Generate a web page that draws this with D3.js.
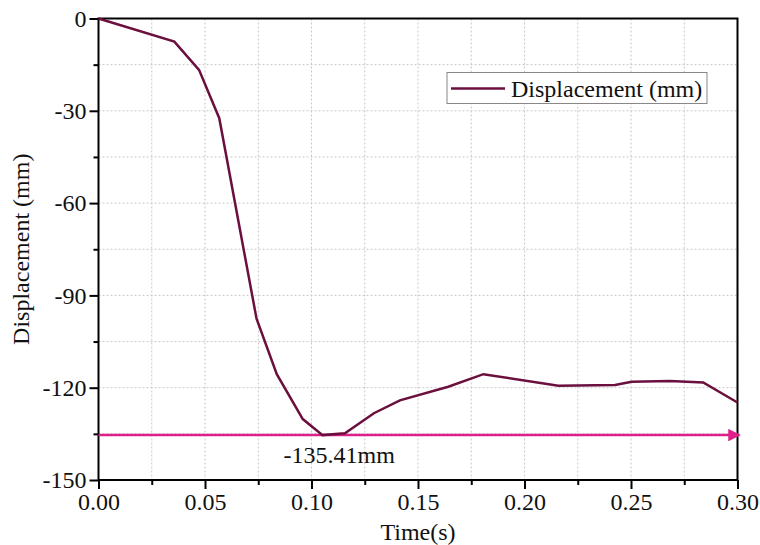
<!DOCTYPE html>
<html>
<head>
<meta charset="utf-8">
<script src="https://cdn.jsdelivr.net/npm/d3@7"></script>
<style>
  body { margin: 0; background: #fff; }
  text { font-family: "Liberation Serif", "Times New Roman", serif; fill: #111; }
</style>
</head>
<body>
<div id="chart"></div>
<script>
// data
var times = [0, 0.0356, 0.0472, 0.0567, 0.0742, 0.0837, 0.0959, 0.1052, 0.1157, 0.1293, 0.1415, 0.1642, 0.1807, 0.2159, 0.2425, 0.2503, 0.2683, 0.2839, 0.30];
var displacement = [0, -7.5, -16.7, -32.4, -97.6, -115.6, -130.2, -135.41, -134.8, -128.3, -124.1, -119.7, -115.6, -119.4, -119.1, -118.1, -117.8, -118.3, -124.8];
var minValue = -135.41;
var xTicks = [0, 0.05, 0.10, 0.15, 0.20, 0.25, 0.30];
var yTicks = [0, -30, -60, -90, -120, -150];

var svgWidth = 760, svgHeight = 545;
var margin = {top: 18.5, right: 22.5, bottom: 65, left: 98.5};
var width = svgWidth - margin.left - margin.right;
var height = svgHeight - margin.top - margin.bottom;
var fontSize = "24px";

var svg = d3.select("#chart").append("svg")
    .attr("width", svgWidth).attr("height", svgHeight);
var chart = svg.append("g").attr("transform", `translate(${margin.left},${margin.top})`);

var xScale = d3.scaleLinear().domain([0, 0.30]).range([0, width]);
var yScale = d3.scaleLinear().domain([-150, 0]).range([height, 0]);

// grid on every minor step
var xGrid = d3.range(1, 12).map(function (i) { return i * 0.025; });
var yGrid = d3.range(1, 10).map(function (i) { return -i * 15; });
chart.selectAll(".gx").data(xGrid).enter().append("line")
    .attr("x1", function (d) { return xScale(d); }).attr("x2", function (d) { return xScale(d); })
    .attr("y1", 0).attr("y2", height)
    .attr("stroke", "#c8c8c8").attr("stroke-dasharray", "2,2");
chart.selectAll(".gy").data(yGrid).enter().append("line")
    .attr("y1", function (d) { return yScale(d); }).attr("y2", function (d) { return yScale(d); })
    .attr("x1", 0).attr("x2", width)
    .attr("stroke", "#c8c8c8").attr("stroke-dasharray", "2,2");

// axes
var xAxis = d3.axisBottom(xScale).tickValues(xTicks).tickSize(9).tickPadding(4)
    .tickFormat(d3.format(".2f"));
var yAxis = d3.axisLeft(yScale).tickValues(yTicks).tickSize(9).tickPadding(3)
    .tickFormat(function (d) { return String(d); });
var xMinor = d3.axisBottom(xScale).tickValues(xGrid.filter(function (d, i) { return i % 2 == 0; }))
    .tickSize(5).tickFormat("");
var yMinor = d3.axisLeft(yScale).tickValues(yGrid.filter(function (d, i) { return i % 2 == 0; }))
    .tickSize(5).tickFormat("");

function styleAxis(g) {
    g.select(".domain").remove();
    g.selectAll("line").attr("stroke", "#000").attr("stroke-width", 2);
    g.selectAll("text").style("font-family", "Liberation Serif, serif").style("font-size", fontSize).attr("fill", "#111");
}
chart.append("g").attr("transform", `translate(0,${height})`).call(xAxis).call(styleAxis);
chart.append("g").attr("transform", `translate(0,${height})`).call(xMinor).call(styleAxis);
chart.append("g").call(yAxis).call(styleAxis);
chart.append("g").call(yMinor).call(styleAxis);

// frame
chart.append("rect").attr("width", width).attr("height", height)
    .attr("fill", "none").attr("stroke", "#000").attr("stroke-width", 2);

// minimum line with arrow
svg.append("defs").append("marker")
    .attr("id", "arrow").attr("viewBox", "0 0 10 10").attr("refX", 9).attr("refY", 5)
    .attr("markerWidth", 5).attr("markerHeight", 5).attr("orient", "auto")
    .append("path").attr("d", "M0,0L10,5L0,10z").attr("fill", "#e0208a");
chart.append("line")
    .attr("x1", xScale(0)).attr("x2", xScale(0.30) + 2)
    .attr("y1", yScale(minValue)).attr("y2", yScale(minValue))
    .attr("stroke", "#e0208a").attr("stroke-width", 2.5)
    .attr("marker-end", "url(#arrow)");
chart.append("text")
    .attr("x", xScale(0.1130)).attr("y", yScale(minValue) + 28)
    .attr("text-anchor", "middle").style("font-size", fontSize)
    .text(minValue + "mm");

// displacement line
var line = d3.line()
    .x(function (d, i) { return xScale(times[i]); })
    .y(function (d) { return yScale(d); });
chart.append("path").datum(displacement)
    .attr("d", line).attr("fill", "none")
    .attr("stroke", "#6a0f3e").attr("stroke-width", 2.5);

// legend
var legend = svg.append("g").attr("transform", "translate(447,72.5)");
legend.append("rect").attr("width", 260).attr("height", 31)
    .attr("fill", "#fff").attr("stroke", "#888").attr("stroke-width", 1);
legend.append("line").attr("x1", 4).attr("x2", 58).attr("y1", 16).attr("y2", 16)
    .attr("stroke", "#6a0f3e").attr("stroke-width", 2.5);
legend.append("text").attr("x", 64).attr("y", 24).style("font-size", fontSize)
    .text("Displacement (mm)");

// axis titles
svg.append("text")
    .attr("x", margin.left + width / 2).attr("y", 540)
    .attr("text-anchor", "middle").style("font-size", fontSize)
    .text("Time(s)");
svg.append("text")
    .attr("transform", `translate(29,${margin.top + height / 2})rotate(-90)`)
    .attr("text-anchor", "middle").style("font-size", fontSize)
    .text("Displacement (mm)");
</script>
</body>
</html>
